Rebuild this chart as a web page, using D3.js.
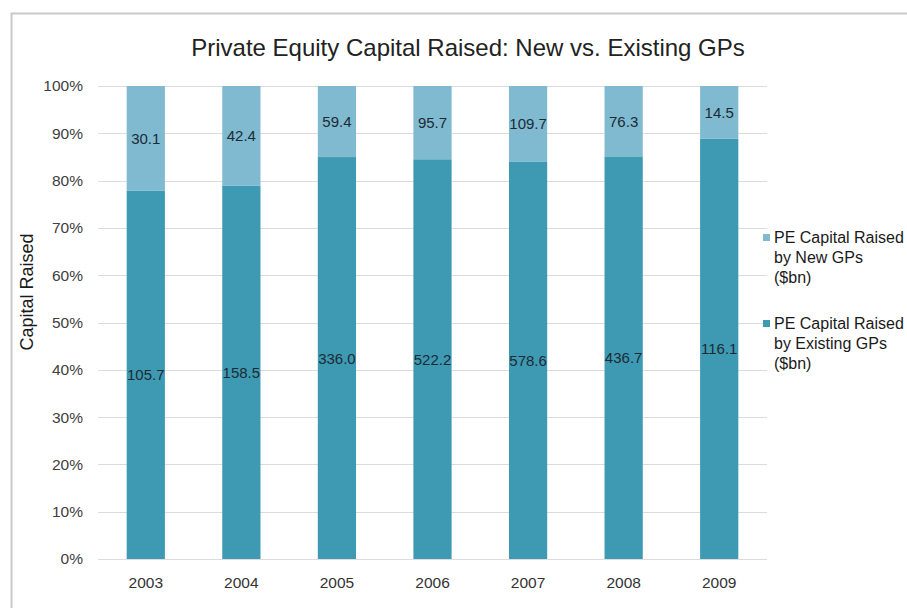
<!DOCTYPE html>
<html>
<head>
<meta charset="utf-8">
<script src="https://cdn.jsdelivr.net/npm/d3@7"></script>
<style>
  html, body { margin: 0; padding: 0; background: #fff; }
  svg { display: block; font-family: "Liberation Sans", Arial, sans-serif; }
</style>
</head>
<body>
<svg id="chart" width="907" height="608"></svg>
<script>
// Fundraising by year, $bn
const years = ["2003", "2004", "2005", "2006", "2007", "2008", "2009"];
const newGPs = [30.1, 42.4, 59.4, 95.7, 109.7, 76.3, 14.5];
const existingGPs = [105.7, 158.5, 336.0, 522.2, 578.6, 436.7, 116.1];
const yTicks = [0, 0.1, 0.2, 0.3, 0.4, 0.5, 0.6, 0.7, 0.8, 0.9, 1.0];
const seriesNames = ["PE Capital Raised by New GPs ($bn)", "PE Capital Raised by Existing GPs ($bn)"];
const legendLines = [
  ["PE Capital Raised", "by New GPs", "($bn)"],
  ["PE Capital Raised", "by Existing GPs", "($bn)"]
];

const colors = { newGPs: "#7fbad1", existing: "#3e9ab3" };

const svg = d3.select("#chart");
const margin = { left: 98, right: 140, top: 86, bottom: 49 };
const W = 907, H = 608;
const plotW = W - margin.left - margin.right;
const plotH = H - margin.top - margin.bottom;

// outer frame (only top and left edges fall inside the canvas)
svg.append("path")
  .attr("d", `M11.5,${H} V13.5 H${W}`)
  .attr("fill", "none")
  .attr("stroke", "#c9c9c9")
  .attr("stroke-width", 2);

// title
svg.append("text")
  .attr("x", 468).attr("y", 56)
  .attr("text-anchor", "middle")
  .attr("font-size", 24)
  .attr("fill", "#222")
  .text("Private Equity Capital Raised: New vs. Existing GPs");

const g = svg.append("g").attr("transform", `translate(${margin.left},${margin.top})`);

const x = d3.scaleBand().domain(years).range([0, plotW]).paddingInner(0.6).paddingOuter(0.3);
const y = d3.scaleLinear().domain([0, 1]).range([plotH, 0]);

// gridlines
g.append("g")
  .selectAll("line")
  .data(yTicks)
  .join("line")
  .attr("x1", 0).attr("x2", plotW)
  .attr("y1", d => Math.round(y(d)) + 0.5)
  .attr("y2", d => Math.round(y(d)) + 0.5)
  .attr("stroke", "#dcdcdc")
  .attr("stroke-width", 1);

// y axis labels
const yAxis = d3.axisLeft(y).tickValues(yTicks).tickFormat(d3.format(".0%")).tickSize(0).tickPadding(15);
g.append("g").call(yAxis)
  .call(s => s.select(".domain").remove())
  .selectAll("text")
  .attr("font-size", 15.5)
  .attr("font-family", "Liberation Sans, Arial, sans-serif")
  .attr("fill", "#404040");

// x axis labels
const xAxis = d3.axisBottom(x).tickSize(0).tickPadding(18);
g.append("g").attr("transform", `translate(0,${plotH})`).call(xAxis)
  .call(s => s.select(".domain").remove())
  .selectAll("text")
  .attr("font-size", 15.5)
  .attr("font-family", "Liberation Sans, Arial, sans-serif")
  .attr("fill", "#333");

// stacked 100% bars
const rows = years.map((yr, i) => {
  const total = newGPs[i] + existingGPs[i];
  return { year: yr, existing: existingGPs[i], newv: newGPs[i], pe: existingGPs[i] / total };
});

const bars = g.append("g");
bars.selectAll("rect.existing")
  .data(rows).join("rect")
  .attr("class", "existing")
  .attr("x", d => x(d.year))
  .attr("width", x.bandwidth())
  .attr("y", d => y(d.pe))
  .attr("height", d => y(0) - y(d.pe))
  .attr("fill", colors.existing);

bars.selectAll("rect.newgp")
  .data(rows).join("rect")
  .attr("class", "newgp")
  .attr("x", d => x(d.year))
  .attr("width", x.bandwidth())
  .attr("y", y(1))
  .attr("height", d => y(d.pe) - y(1))
  .attr("fill", colors.newGPs);

// value labels centred in each segment
const lbl = g.append("g")
  .attr("font-size", 15)
  .attr("fill", "#1c2a33")
  .attr("text-anchor", "middle");
lbl.selectAll("text.ex")
  .data(rows).join("text")
  .attr("x", d => x(d.year) + x.bandwidth() / 2)
  .attr("y", d => (y(0) + y(d.pe)) / 2 + 5.5)
  .text(d => d.existing.toFixed(1));
lbl.selectAll("text.nw")
  .data(rows).join("text")
  .attr("x", d => x(d.year) + x.bandwidth() / 2)
  .attr("y", d => (y(1) + y(d.pe)) / 2 + 5.5)
  .text(d => d.newv.toFixed(1));

// y axis title
svg.append("text")
  .attr("transform", "translate(33,292) rotate(-90)")
  .attr("text-anchor", "middle")
  .attr("font-size", 18)
  .attr("fill", "#1a1a1a")
  .text("Capital Raised");

// legend
const legend = svg.append("g").attr("transform", "translate(763,0)");
const legendTops = [234, 320];
const legendColors = [colors.newGPs, colors.existing];
legendLines.forEach((lines, i) => {
  const item = legend.append("g").attr("transform", `translate(0,${legendTops[i]})`);
  item.append("rect").attr("x", 0).attr("y", 0).attr("width", 7).attr("height", 7).attr("fill", legendColors[i]);
  item.append("title").text(seriesNames[i]);
  lines.forEach((t, j) => {
    item.append("text")
      .attr("x", 11).attr("y", 9 + j * 20)
      .attr("font-size", 16)
      .attr("fill", "#1a1a1a")
      .text(t);
  });
});
</script>
</body>
</html>
